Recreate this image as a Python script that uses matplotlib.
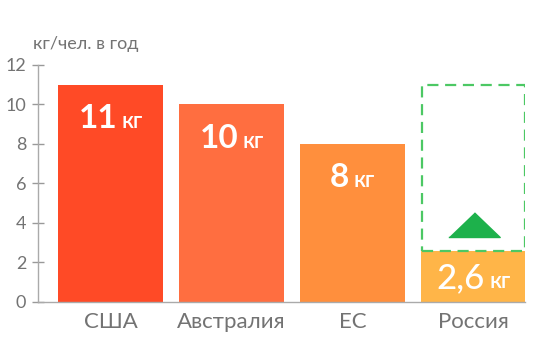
import matplotlib
matplotlib.use("Agg")
import matplotlib.pyplot as plt
from matplotlib.offsetbox import TextArea, HPacker, AnnotationBbox

plt.rcParams['font.family'] = ['Lato', 'DejaVu Sans']

categories = ["США", "Австралия", "ЕС", "Россия"]
values = [11, 10, 8, 2.6]
value_labels = ["11", "10", "8", "2,6"]
unit = "кг"
target_value = 11
colors = ["#FF4A26", "#FF6E40", "#FF8F3D", "#FFB548"]
yticks = [0, 2, 4, 6, 8, 10, 12]
ylabel = "кг/чел. в год"

fig = plt.figure(figsize=(5.4, 3.59), dpi=100)
ax = fig.add_axes([0.0704, 0.1588, 0.902, 0.6602])

x = list(range(len(categories)))
width = 0.868
ax.bar(x, values, width=width, color=colors, zorder=2)

# dashed target box for Russia
ax.bar([x[3]], [target_value - values[3]], bottom=[values[3]], width=width - 0.02,
       fill=False, edgecolor="#4CC864", linestyle=(0, (5, 3)), linewidth=1.6, zorder=3)
# up triangle
ax.plot([x[3]], [3.3], marker=[(-1, 0), (1, 0), (0, 0.96)], markersize=37,
        color="#1DB14B", linestyle="none", zorder=4)

ax.set_xlim(-0.599, 3.426)
ax.set_ylim(0, 12)
ax.set_yticks(yticks)
ax.set_xticks(x)
ax.set_xticklabels(categories, fontsize=16, color="#737373")
ax.tick_params(axis='x', length=0, pad=7)
ax.tick_params(axis='y', direction='inout', length=9, width=1, color="#999999",
               labelsize=13, labelcolor="#737373", pad=4)

for s in ["top", "right"]:
    ax.spines[s].set_visible(False)
for s in ["left", "bottom"]:
    ax.spines[s].set_color("#aaaaaa")
    ax.spines[s].set_linewidth(1)

fig.text(0.061, 0.877, ylabel, fontsize=13, color="#737373", ha='left', va='center')

for i, (v, lab) in enumerate(zip(values, value_labels)):
    if i < 3:
        num = TextArea(lab, textprops=dict(fontsize=24, fontweight='bold', color='white'))
        un = TextArea(unit, textprops=dict(fontsize=16, fontweight='semibold', color='white'))
        y = v - 1.7
    else:
        num = TextArea(lab, textprops=dict(fontsize=25, fontweight='medium', color='white'))
        un = TextArea(unit, textprops=dict(fontsize=16, fontweight='semibold', color='white'))
        y = v / 2 - 0.1
    pack = HPacker(children=[num, un], align="baseline", pad=0, sep=3)
    ab = AnnotationBbox(pack, (x[i], y), frameon=False, box_alignment=(0.5, 0.5), zorder=5)
    ax.add_artist(ab)

fig.savefig("out.png", dpi=100)
